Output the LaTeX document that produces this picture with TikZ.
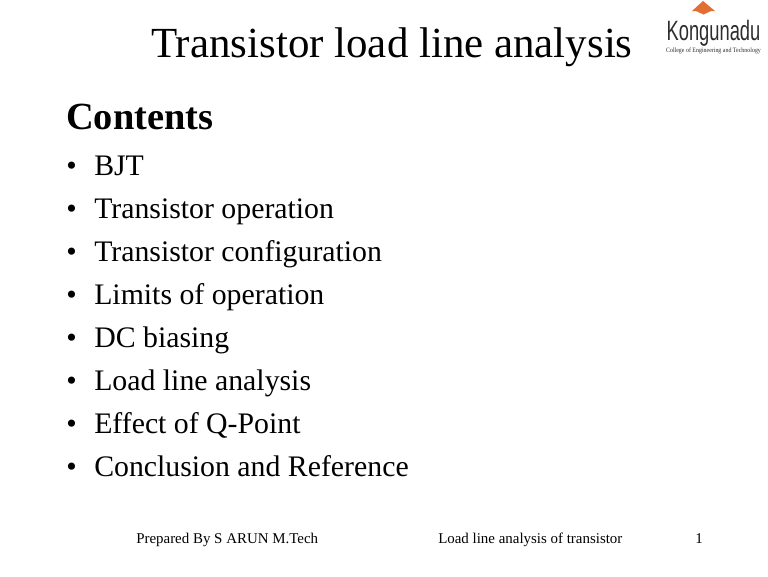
\documentclass[tikz,border=0pt]{standalone}
\usepackage{fontspec}
\setmainfont{Liberation Serif}
\newfontfamily\logofont{Liberation Sans}
\definecolor{logoorange}{RGB}{226,110,50}
\definecolor{logotext}{RGB}{45,45,45}
\newcommand{\rowgap}{43}
\tikzset{
    common/.style={anchor=base west, inner sep=0pt, text=black},
    title/.style={common, font=\fontsize{32.2}{36}\selectfont},
    heading/.style={common, font=\fontsize{28.8}{30}\selectfont\bfseries},
    item/.style={common, font=\fontsize{22.35}{24}\selectfont},
    footer/.style={common, font=\fontsize{11.2}{12}\selectfont},
    logoname/.style={anchor=base, inner sep=0pt, text=logotext, font=\logofont\fontsize{21}{23}\selectfont, xscale=0.654},
    logosub/.style={anchor=base, inner sep=0pt, text=logotext, font=\fontsize{5}{6}\selectfont, xscale=0.89}
}
\begin{document}
\begin{tikzpicture}[x=0.75pt, y=-0.75pt]
    \useasboundingbox (0,0) rectangle (768,576);
    \node[title] (title) at (151,57) {Transistor load line analysis};
    \node[heading] (contents) at (66,129.5) {Contents};
    % bullet list
    \foreach \txt [count=\i from 0] in {BJT, Transistor operation, Transistor configuration, Limits of operation, DC biasing, Load line analysis, Effect of Q-Point, Conclusion and Reference} {
        \node[item] (bullet\i) at (66,175+\i*\rowgap) {•};
        \node[item] (entry\i) at (94,175+\i*\rowgap) {\txt};
    }
    % logo
    \fill[logoorange] (692,11) -- (703,1) -- (715,11) -- cycle;
    \fill[logoorange] (696,11) -- (711,11) -- (703.5,14.5) -- cycle;
    \node[logoname] (logoname) at (713.5,40) {Kongunadu};
    \node[logosub] (logosub) at (713.5,52) {College of Engineering and Technology};
    % footer
    \node[footer] (prepared) at (136,543) {Prepared By S ARUN M.Tech};
    \node[footer] (running) at (438,543) {Load line analysis of transistor};
    \node[footer] (page) at (695,543) {1};
\end{tikzpicture}
\end{document}
